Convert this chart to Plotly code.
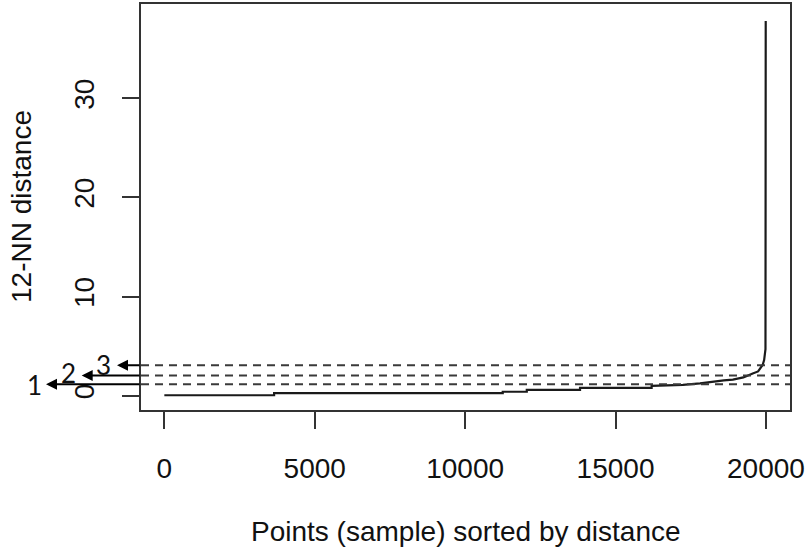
import plotly.graph_objects as go

# ---- data ----
points_x = [1, 3650, 3650, 11250, 11250, 12050, 12050, 13820, 13820, 16200, 16200,
            16700, 17240, 17810, 18240, 18600, 18900, 19250, 19560, 19740, 19890,
            19940, 19985, 19993]
dist_y = [0.05, 0.05, 0.27, 0.27, 0.40, 0.40, 0.60, 0.60, 0.80, 0.80, 1.00,
          1.03, 1.10, 1.25, 1.45, 1.55, 1.62, 1.85, 2.25, 2.45, 3.10,
          3.60, 4.70, 37.8]
eps_levels = [1.15, 2.05, 3.07]
eps_labels = ["1", "2", "3"]
x_ticks = [0, 5000, 10000, 15000, 20000]
y_ticks = [0, 10, 20, 30]

W, H = 808, 549
L, R, T, B = 141, 18, 4, 139
pw = W - L - R

fig = go.Figure()
fig.add_trace(go.Scatter(x=points_x, y=dist_y, mode="lines",
                         line=dict(color="#1a1a1a", width=2.2), showlegend=False,
                         hoverinfo="skip"))

for lv in eps_levels:
    fig.add_shape(type="line", xref="paper", x0=0, x1=1, yref="y", y0=lv, y1=lv,
                  line=dict(color="#3a3a3a", width=2, dash="8px,6px"))

# arrows with labels (pixel positions of heads / label centres)
head_px = [46, 81.7, 117]
label_px = [34.5, 68.7, 103.5]
label_y = [1.08, 2.26, 3.15]
for lv, hp, lp, ly, txt in zip(eps_levels, head_px, label_px, label_y, eps_labels):
    fig.add_annotation(x=(hp - L) / pw, y=lv, xref="paper", yref="y", text="",
                       showarrow=True, ax=L - hp, ay=0, arrowhead=2, arrowsize=1.1,
                       arrowwidth=2, arrowcolor="#000", standoff=0, startstandoff=0)
    fig.add_annotation(x=(lp - L) / pw, y=ly, xref="paper", yref="y", text=txt,
                       showarrow=False, font=dict(family="Lato", size=26, color="#111"),
                       xanchor="center", yanchor="middle")

axis_font = dict(family="Liberation Sans, Arial", size=28, color="#111")

fig.add_annotation(x=0.5, y=-(531 - 410) / 406, xref="paper", yref="paper",
                   text="Points (sample) sorted by distance", showarrow=False,
                   font=axis_font, xanchor="center", yanchor="middle")
fig.add_annotation(x=(21 - L) / pw, y=0.5, xref="paper", yref="paper",
                   text="12-NN distance", showarrow=False, textangle=-90,
                   font=axis_font, xanchor="center", yanchor="middle")

fig.update_xaxes(range=[-775, 20800], tickvals=x_ticks, ticktext=[str(v) for v in x_ticks],
                 ticks="outside", ticklen=17, tickwidth=1.5, tickcolor="#333",
                 showline=True, mirror=True, linecolor="#333", linewidth=1.5,
                 showgrid=False, zeroline=False, tickfont=axis_font,
                 ticklabelstandoff=16, automargin=False)
fig.update_yaxes(range=[-1.44, 39.52], tickvals=y_ticks, ticktext=[str(v) for v in y_ticks],
                 ticks="outside", ticklen=17, tickwidth=1.5, tickcolor="#333",
                 showline=True, mirror=True, linecolor="#333", linewidth=1.5,
                 showgrid=False, zeroline=False, tickfont=axis_font, tickangle=-90,
                 ticklabelstandoff=17, automargin=False)

fig.update_layout(width=W, height=H, margin=dict(l=L, r=R, t=T, b=B),
                  plot_bgcolor="white", paper_bgcolor="white")

fig.write_html("out.html", config={"displayModeBar": False},
               post_script="document.body.style.margin='0';")
